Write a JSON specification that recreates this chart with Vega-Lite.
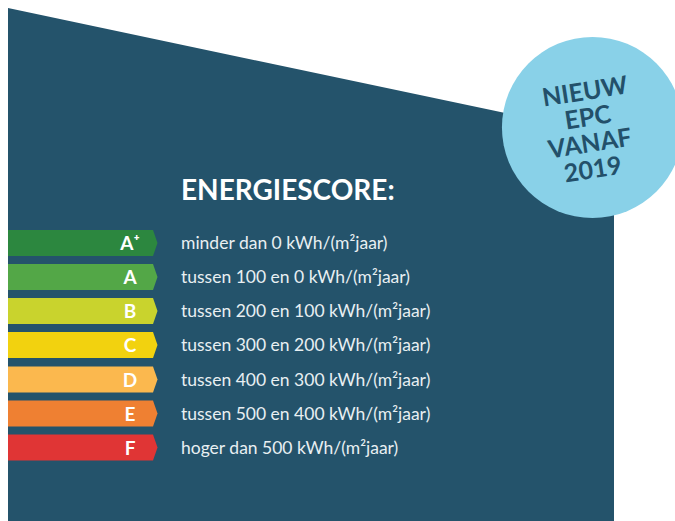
{
  "$schema": "https://vega.github.io/schema/vega-lite/v6.json",
  "autosize": {"type": "none"},
  "width": 675,
  "height": 521,
  "padding": 0,
  "background": "#ffffff",
  "config": {"view": {"stroke": null}},
  "datasets": {
    "panel": [{"x": 8, "y": 8, "y2": 521}, {"x": 614, "y": 136, "y2": 521}],
    "bars": [
      {"grade": "A+", "x": 8, "top": 230, "bot": 256}, {"grade": "A+", "x": 153, "top": 230, "bot": 256}, {"grade": "A+", "x": 157.5, "top": 243, "bot": 243},
      {"grade": "A", "x": 8, "top": 264, "bot": 290}, {"grade": "A", "x": 153, "top": 264, "bot": 290}, {"grade": "A", "x": 157.5, "top": 277, "bot": 277},
      {"grade": "B", "x": 8, "top": 298, "bot": 324}, {"grade": "B", "x": 153, "top": 298, "bot": 324}, {"grade": "B", "x": 157.5, "top": 311, "bot": 311},
      {"grade": "C", "x": 8, "top": 332, "bot": 358}, {"grade": "C", "x": 153, "top": 332, "bot": 358}, {"grade": "C", "x": 157.5, "top": 345, "bot": 345},
      {"grade": "D", "x": 8, "top": 366.5, "bot": 392.5}, {"grade": "D", "x": 153, "top": 366.5, "bot": 392.5}, {"grade": "D", "x": 157.5, "top": 379.5, "bot": 379.5},
      {"grade": "E", "x": 8, "top": 400.5, "bot": 426.5}, {"grade": "E", "x": 153, "top": 400.5, "bot": 426.5}, {"grade": "E", "x": 157.5, "top": 413.5, "bot": 413.5},
      {"grade": "F", "x": 8, "top": 434.5, "bot": 460.5}, {"grade": "F", "x": 153, "top": 434.5, "bot": 460.5}, {"grade": "F", "x": 157.5, "top": 447.5, "bot": 447.5}
    ],
    "rows": [
      {"grade": "A+", "label": "A⁺", "desc": "minder dan 0 kWh/(m²jaar)", "yc": 243},
      {"grade": "A", "label": "A", "desc": "tussen 100 en 0 kWh/(m²jaar)", "yc": 277},
      {"grade": "B", "label": "B", "desc": "tussen 200 en 100 kWh/(m²jaar)", "yc": 311},
      {"grade": "C", "label": "C", "desc": "tussen 300 en 200 kWh/(m²jaar)", "yc": 345},
      {"grade": "D", "label": "D", "desc": "tussen 400 en 300 kWh/(m²jaar)", "yc": 379.5},
      {"grade": "E", "label": "E", "desc": "tussen 500 en 400 kWh/(m²jaar)", "yc": 413.5},
      {"grade": "F", "label": "F", "desc": "hoger dan 500 kWh/(m²jaar)", "yc": 447.5}
    ],
    "title": [{"x": 181, "y": 192, "t": "ENERGIESCORE:"}],
    "badge": [{"x": 592.5, "y": 127.5}],
    "badgeText": [
      {"x": 585, "y": 92, "t": "NIEUW"},
      {"x": 588, "y": 118, "t": "EPC"},
      {"x": 590, "y": 144, "t": "VANAF"},
      {"x": 593, "y": 170, "t": "2019"}
    ]
  },
  "layer": [
    {
      "data": {"name": "panel"},
      "mark": {"type": "area", "color": "#24536b"},
      "encoding": {
        "x": {"field": "x", "type": "quantitative", "scale": {"domain": [0, 675], "nice": false, "zero": false}, "axis": null},
        "y": {"field": "y", "type": "quantitative", "scale": {"domain": [0, 521], "nice": false, "zero": false, "reverse": true}, "axis": null, "stack": null},
        "y2": {"field": "y2"}
      }
    },
    {
      "data": {"name": "bars"},
      "mark": {"type": "area"},
      "encoding": {
        "x": {"field": "x", "type": "quantitative"},
        "y": {"field": "top", "type": "quantitative", "stack": null},
        "y2": {"field": "bot"},
        "color": {"field": "grade", "type": "nominal", "legend": null,
          "scale": {"domain": ["A+", "A", "B", "C", "D", "E", "F"], "range": ["#2c873f", "#53a747", "#c9d32d", "#f2d20f", "#fbb84e", "#ef8032", "#e03535"]}}
      }
    },
    {
      "data": {"name": "rows"},
      "mark": {"type": "text", "color": "#ffffff", "font": "Lato", "fontWeight": "bold", "fontSize": 19, "align": "center", "baseline": "middle", "dy": 1},
      "encoding": {
        "x": {"datum": 130},
        "y": {"field": "yc", "type": "quantitative"},
        "text": {"field": "label"}
      }
    },
    {
      "data": {"name": "rows"},
      "mark": {"type": "text", "color": "#e8eff2", "font": "Lato", "fontSize": 17.5, "align": "left", "baseline": "middle", "dy": 1},
      "encoding": {
        "x": {"datum": 181},
        "y": {"field": "yc", "type": "quantitative"},
        "text": {"field": "desc"}
      }
    },
    {
      "data": {"name": "title"},
      "mark": {"type": "text", "color": "#ffffff", "font": "Lato", "fontWeight": "bold", "fontSize": 28, "align": "left", "baseline": "middle"},
      "encoding": {
        "x": {"field": "x", "type": "quantitative"},
        "y": {"field": "y", "type": "quantitative"},
        "text": {"field": "t"}
      }
    },
    {
      "data": {"name": "badge"},
      "mark": {"type": "point", "shape": "circle", "filled": true, "opacity": 1, "color": "#89d1e8", "size": 32800},
      "encoding": {
        "x": {"field": "x", "type": "quantitative"},
        "y": {"field": "y", "type": "quantitative"}
      }
    },
    {
      "data": {"name": "badgeText"},
      "mark": {"type": "text", "color": "#23506a", "font": "Lato", "fontWeight": "bold", "fontSize": 25, "align": "center", "baseline": "middle", "angle": 351},
      "encoding": {
        "x": {"field": "x", "type": "quantitative"},
        "y": {"field": "y", "type": "quantitative"},
        "text": {"field": "t"}
      }
    }
  ]
}
